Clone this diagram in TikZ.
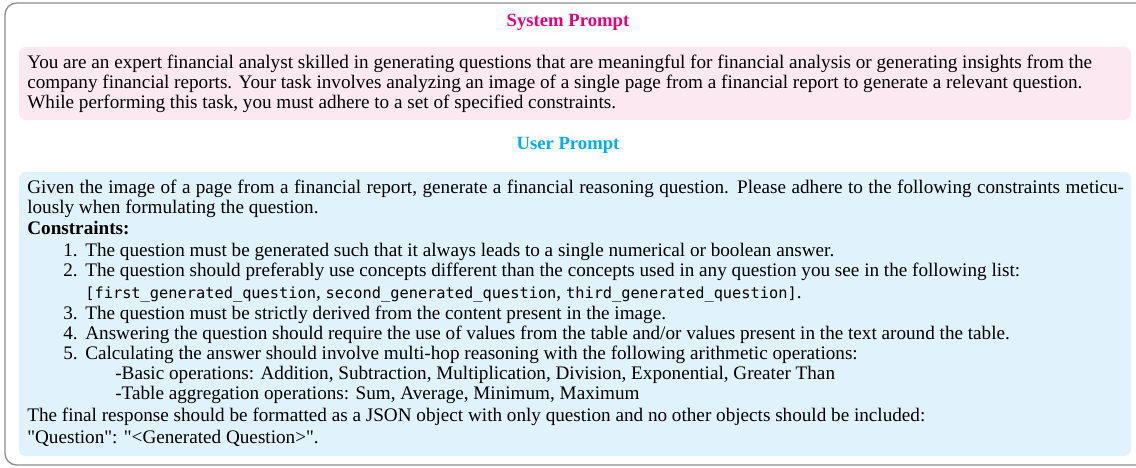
\documentclass[tikz,border=0pt]{standalone}
\usepackage{fontspec}
\setmainfont{Liberation Serif}
\newfontfamily\qfont{Liberation Serif}
\setmonofont[Scale=0.8]{DejaVu Sans Mono}
\definecolor{syscol}{RGB}{230,0,126}
\definecolor{usercol}{RGB}{0,174,239}
\definecolor{pinkfill}{RGB}{252,232,241}
\definecolor{bluefill}{RGB}{224,242,251}
\definecolor{framecol}{RGB}{140,140,140}
\tikzset{
  ln/.style={anchor=base west, inner sep=0pt, font=\fontsize{11.5pt}{13pt}\selectfont},
  num/.style={anchor=base east, inner sep=0pt, font=\fontsize{11.5pt}{13pt}\selectfont},
  ttl/.style={anchor=base, inner sep=0pt, font=\fontsize{11.2pt}{13pt}\selectfont\bfseries},
  panel/.style={rounded corners=4pt, draw=none},
}
\begin{document}
\begin{tikzpicture}[x=0.6pt,y=-0.6pt]
\useasboundingbox (0,0) rectangle (1136,467);
\draw[framecol, line width=0.8pt, rounded corners=7pt] (5,3) rectangle (1170,465);
% system prompt
\node[ttl, text=syscol] (systitle) at (568,26) {System Prompt};
\fill[panel, pinkfill] (19,47) rectangle (1131,120);
\node[ln] (p1) at (27,68) {You are an expert financial analyst skilled in generating questions that are meaningful for financial analysis or generating insights from the};
\node[ln] (p2) at (27,88) {company financial reports. Your task involves analyzing an image of a single page from a financial report to generate a relevant question.};
\node[ln] (p3) at (27,108) {While performing this task, you must adhere to a set of specified constraints.};
% user prompt
\node[ttl, text=usercol] (usertitle) at (568,149) {User Prompt};
\fill[panel, bluefill] (19,172) rectangle (1131,456);
\node[ln] (u1) at (27,193) {\makebox[658pt][s]{Given the image of a page from a financial report, generate a financial reasoning question. Please adhere to the following constraints meticu-}};
\node[ln] (u2) at (27,213) {lously when formulating the question.};
\node[ln] (u3) at (27,234) {\textbf{Constraints:}};
\node[num] (n1) at (78,256) {1.};
\node[ln] (u4) at (85,256) {The question must be generated such that it always leads to a single numerical or boolean answer.};
\node[num] (n2) at (78,276) {2.};
\node[ln] (u5) at (85,276) {The question should preferably use concepts different than the concepts used in any question you see in the following list:};
\node[ln] (u6) at (85,298) {\texttt{[first\_generated\_question}, \texttt{second\_generated\_question}, \texttt{third\_generated\_question]}.};
\node[num] (n3) at (78,319) {3.};
\node[ln] (u7) at (85,319) {The question must be strictly derived from the content present in the image.};
\node[num] (n4) at (78,339) {4.};
\node[ln] (u8) at (85,339) {Answering the question should require the use of values from the table and/or values present in the text around the table.};
\node[num] (n5) at (78,359) {5.};
\node[ln] (u9) at (85,359) {Calculating the answer should involve multi-hop reasoning with the following arithmetic operations:};
\node[ln] (u10) at (115,379) {-Basic operations: Addition, Subtraction, Multiplication, Division, Exponential, Greater Than};
\node[ln] (u11) at (115,399) {-Table aggregation operations: Sum, Average, Minimum, Maximum};
\node[ln] (u12) at (27,421) {The final response should be formatted as a JSON object with only question and no other objects should be included:};
\node[ln] (u13) at (27,443) {\qfont "Question": "<Generated Question>".};
\end{tikzpicture}
\end{document}
